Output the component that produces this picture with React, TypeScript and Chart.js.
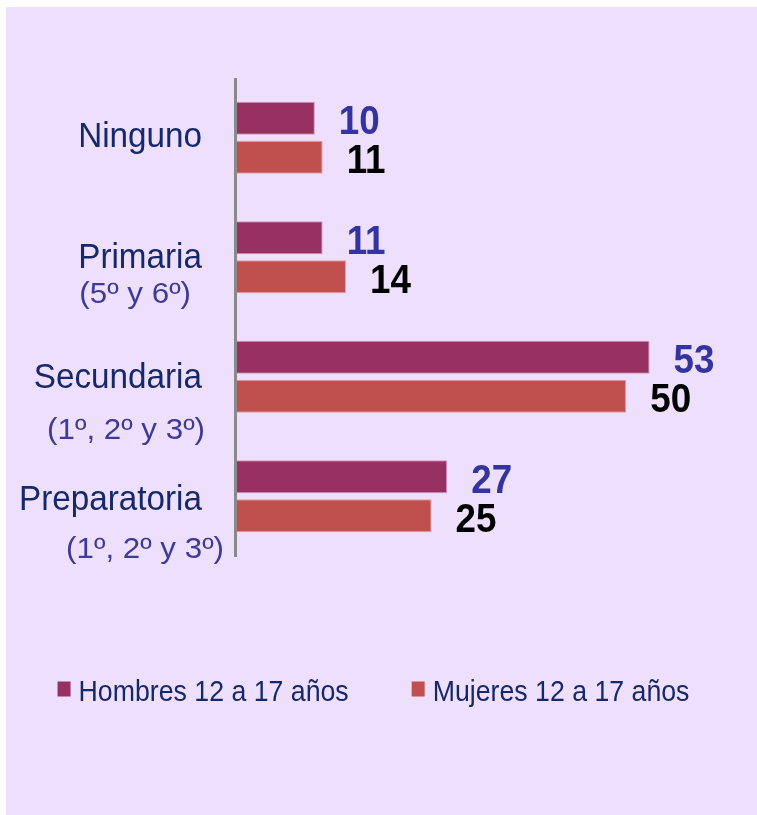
import React, { useEffect, useRef } from "react";
import { Chart, registerables } from "chart.js";

Chart.register(...registerables);

// ---- data ----
const categories = ["Ninguno", "Primaria", "Secundaria", "Preparatoria"];
const subLabels = ["", "(5º y 6º)", "(1º, 2º y 3º)", "(1º, 2º y 3º)"];
const seriesNames = ["Hombres 12 a 17 años", "Mujeres 12 a 17 años"];
const hombres = [10, 11, 53, 27];
const mujeres = [11, 14, 50, 25];

// ---- styles ----
const BAR_COLORS = ["#963162", "#C0504D"];
const BAR_BORDERS = ["rgba(210,140,180,0.9)", "rgba(225,150,150,0.9)"];
const VALUE_COLORS = ["#3434A0", "#000000"];
const NAVY = "#15286A";
const SUB_COLOR = "#3D3A98";
const PANEL = "#EEDFFD";
const FONT = '"Liberation Sans", Arial, sans-serif';

// label layout (style offsets)
const MAIN_RIGHT = 202;
const MAIN_DY = [0, 1.5, 1.5, 4.5];
const SUB_RIGHT = [0, 191, 205, 224];
const SUB_DY = [0, 38, 54, 53.5];
const LEGEND_Y = 693;

function drawScaled(ctx: CanvasRenderingContext2D, text: string, x: number, y: number, sx: number) {
  ctx.save();
  ctx.translate(x, y);
  ctx.scale(sx, 1);
  ctx.fillText(text, 0, 0);
  ctx.restore();
}

const labelsPlugin = {
  id: "customLabels",
  beforeDatasetsDraw(chart: any) {
    const { ctx, chartArea } = chart;
    ctx.save();
    ctx.fillStyle = "#8A8A8A";
    ctx.fillRect(chartArea.left - 3, chartArea.top, 3, chartArea.bottom - chartArea.top + 1);
    ctx.restore();
  },
  afterDatasetsDraw(chart: any) {
    const { ctx } = chart;
    const yScale = chart.scales.y;
    ctx.save();
    // category labels
    categories.forEach((c, i) => {
      const yc = yScale.getPixelForValue(i);
      ctx.textAlign = "right";
      ctx.textBaseline = "middle";
      ctx.font = `35px ${FONT}`;
      ctx.fillStyle = NAVY;
      drawScaled(ctx, c, MAIN_RIGHT, yc + MAIN_DY[i], 0.95);
      if (subLabels[i]) {
        ctx.font = `29px ${FONT}`;
        ctx.fillStyle = SUB_COLOR;
        drawScaled(ctx, subLabels[i], SUB_RIGHT[i], yc + SUB_DY[i], 1.08);
      }
    });
    // value labels
    chart.data.datasets.forEach((ds: any, di: number) => {
      const meta = chart.getDatasetMeta(di);
      meta.data.forEach((bar: any, i: number) => {
        ctx.textAlign = "left";
        ctx.textBaseline = "middle";
        ctx.font = `bold 40px ${FONT}`;
        ctx.fillStyle = VALUE_COLORS[di];
        drawScaled(ctx, String(ds.data[i]), bar.x + 24, bar.y + 5, 0.92);
      });
    });
    // legend (condensed text, drawn from the datasets)
    const sx = 0.89;
    const boxW = 13;
    const boxH = 15;
    const textGap = 8;
    const itemGap = 63;
    ctx.font = `30px ${FONT}`;
    const items = chart.data.datasets.map((ds: any) => ({
      label: ds.label,
      color: ds.backgroundColor,
      w: ctx.measureText(ds.label).width * sx,
    }));
    const total =
      items.reduce((a: number, it: any) => a + boxW + textGap + it.w, 0) + itemGap * (items.length - 1);
    let x = (chart.width - total) / 2 - 5;
    items.forEach((it: any) => {
      ctx.fillStyle = it.color;
      ctx.fillRect(x, LEGEND_Y - 11.5, boxW, boxH);
      ctx.fillStyle = NAVY;
      ctx.textAlign = "left";
      ctx.textBaseline = "middle";
      drawScaled(ctx, it.label, x + boxW + textGap, LEGEND_Y, sx);
      x += boxW + textGap + it.w + itemGap;
    });
    ctx.restore();
  },
};

export default function App() {
  const ref = useRef<HTMLCanvasElement | null>(null);

  useEffect(() => {
    document.body.style.margin = "0";
    if (!ref.current) return;
    const chart = new Chart(ref.current, {
      type: "bar",
      data: {
        labels: categories,
        datasets: [
          {
            label: seriesNames[0],
            data: hombres,
            backgroundColor: BAR_COLORS[0],
            borderColor: BAR_BORDERS[0],
            borderWidth: 1,
            categoryPercentage: 0.653,
            barPercentage: 0.846,
          },
          {
            label: seriesNames[1],
            data: mujeres,
            backgroundColor: BAR_COLORS[1],
            borderColor: BAR_BORDERS[1],
            borderWidth: 1,
            categoryPercentage: 0.653,
            barPercentage: 0.846,
          },
        ],
      },
      options: {
        indexAxis: "y",
        responsive: false,
        animation: false,
        devicePixelRatio: 1,
        layout: { padding: { top: 78, right: 0, bottom: 259, left: 0 } },
        scales: {
          y: {
            type: "category",
            display: true,
            ticks: { display: false },
            grid: { display: false },
            border: { display: false },
            afterFit: (s: any) => {
              s.width = 237;
            },
          },
          x: {
            min: 0,
            max: 66.8,
            display: false,
          },
        },
        plugins: {
          legend: { display: false },
          tooltip: { enabled: false },
        },
      } as any,
      plugins: [labelsPlugin],
    });
    return () => chart.destroy();
  }, []);

  return (
    <div style={{ position: "relative", width: 757, height: 815, background: "#FFFFFF", overflow: "hidden" }}>
      <div style={{ position: "absolute", left: 6, top: 7, right: 0, bottom: 0, background: PANEL }} />
      <canvas
        ref={ref}
        width={757}
        height={815}
        style={{ position: "absolute", left: 0, top: 0, width: 757, height: 815 }}
      />
    </div>
  );
}
